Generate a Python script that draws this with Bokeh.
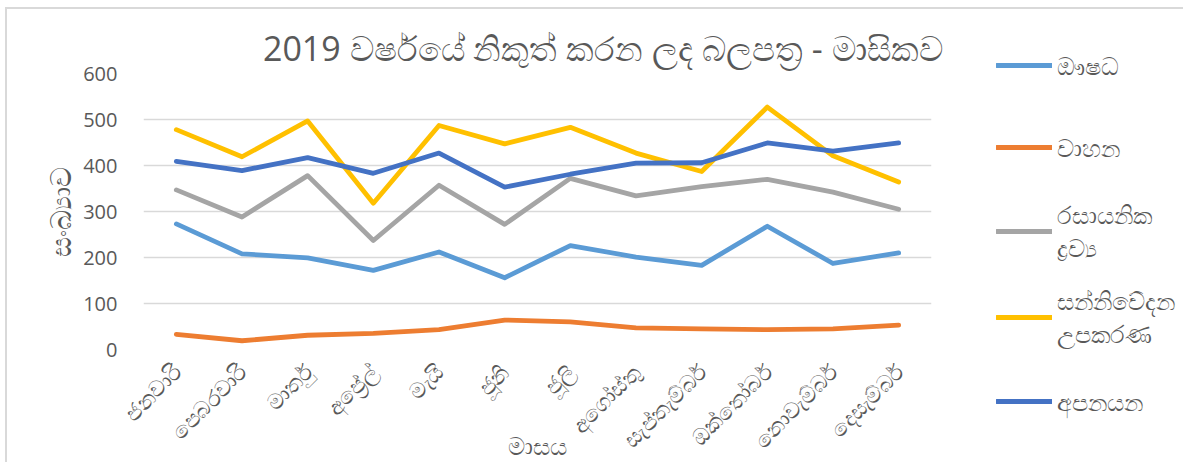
import math
from bokeh.plotting import figure
from bokeh.models import Legend, LegendItem, FixedTicker
from bokeh.embed import file_html
from bokeh.resources import INLINE

months = ["ජනවාරි", "පෙබරවාරි", "මාර්තු", "අප්‍රේල්", "මැයි", "ජූනි", "ජූලි",
          "අගෝස්තු", "සැප්තැම්බර්", "ඔක්තෝබර්", "නොවැම්බර්", "දෙසැම්බර්"]

aushada = [273, 208, 199, 172, 212, 156, 226, 201, 183, 268, 187, 210]
vahana = [33, 19, 31, 35, 43, 64, 60, 47, 45, 43, 45, 53]
rasayanika = [347, 288, 378, 237, 357, 272, 372, 334, 354, 370, 342, 305]
sannivedana = [478, 419, 497, 318, 487, 447, 483, 427, 387, 527, 421, 364]
apanayana = [409, 389, 417, 383, 427, 353, 381, 405, 406, 449, 431, 449]

series_names = ["ඖෂධ", "වාහන", "රසායනික\nද්‍රව්‍ය", "සන්නිවේදන\nඋපකරණ", "අපනයන"]
series_values = [aushada, vahana, rasayanika, sannivedana, apanayana]
colors = ["#5B9BD5", "#ED7D31", "#A5A5A5", "#FFC000", "#4472C4"]

title_text = "2019 වර්ෂයේ නිකුත් කරන ලද බලපත්‍ර - මාසිකව"
y_label = "සංඛ්‍යාව"
x_label = "මාසය"

FONT = "Open Sans"
TXT = "#595959"

FW, FH = 788, 276
p = figure(x_range=months, y_range=(0, 600),
           output_backend="svg", toolbar_location=None,
           min_border_left=136, min_border_right=244, min_border_top=64, min_border_bottom=112)
p.frame_width = FW
p.frame_height = FH
p.x_range.range_padding = 0
p.margin = (7, 0, 0, 5)
p.styles = {"border-left": "2px solid #D9D9D9", "border-top": "2px solid #D9D9D9"}

p.outline_line_color = None
p.border_fill_color = "white"
p.background_fill_color = "white"

p.title.text = title_text
p.title.align = "right"
p.title.offset = -11
p.title.text_font = FONT
p.title.text_font_size = "34px"
p.title.text_font_style = "normal"
p.title.text_color = TXT
p.title.standoff = 5

renderers = []
for vals, col in zip(series_values, colors):
    r = p.line(months, vals, line_color=col, line_width=4.8, line_join="round", line_cap="round")
    renderers.append(r)

p.yaxis.ticker = FixedTicker(ticks=[0, 100, 200, 300, 400, 500, 600])
p.ygrid.ticker = FixedTicker(ticks=[0, 100, 200, 300, 400, 500, 600])
p.ygrid.grid_line_color = "#D9D9D9"
p.ygrid.grid_line_width = 1.5
p.xgrid.grid_line_color = None

for ax in (p.xaxis, p.yaxis):
    ax.axis_line_color = None
    ax.major_tick_line_color = None
    ax.minor_tick_line_color = None
    ax.major_label_text_color = TXT
    ax.axis_label_text_color = TXT
    ax.axis_label_text_font = FONT
    ax.major_label_text_font = FONT
    ax.axis_label_text_font_style = "normal"

p.yaxis.major_label_text_font_size = "20px"
p.yaxis.major_label_standoff = 20
p.yaxis.axis_label = y_label
p.yaxis.axis_label_text_font_size = "28px"
p.yaxis.axis_label_standoff = 1

p.xaxis.major_label_orientation = math.pi / 4
p.xaxis.major_label_text_font_size = "22px"
p.xaxis.major_label_standoff = 12
p.xaxis.axis_label = x_label
p.xaxis.axis_label_text_font_size = "24px"
p.xaxis.axis_label_standoff = -38

items = [LegendItem(label=n, renderers=[r]) for n, r in zip(series_names, renderers)]
legend = Legend(items=items, location=(65, -83), orientation="vertical",
                glyph_width=56, glyph_height=62, label_height=62, spacing=20,
                label_standoff=5, label_text_font=FONT, label_text_font_size="24px",
                label_text_color=TXT, padding=0, margin=0,
                border_line_color=None, background_fill_alpha=0)
p.add_layout(legend, "right")

open("out.html", "w").write(file_html(p, INLINE))
